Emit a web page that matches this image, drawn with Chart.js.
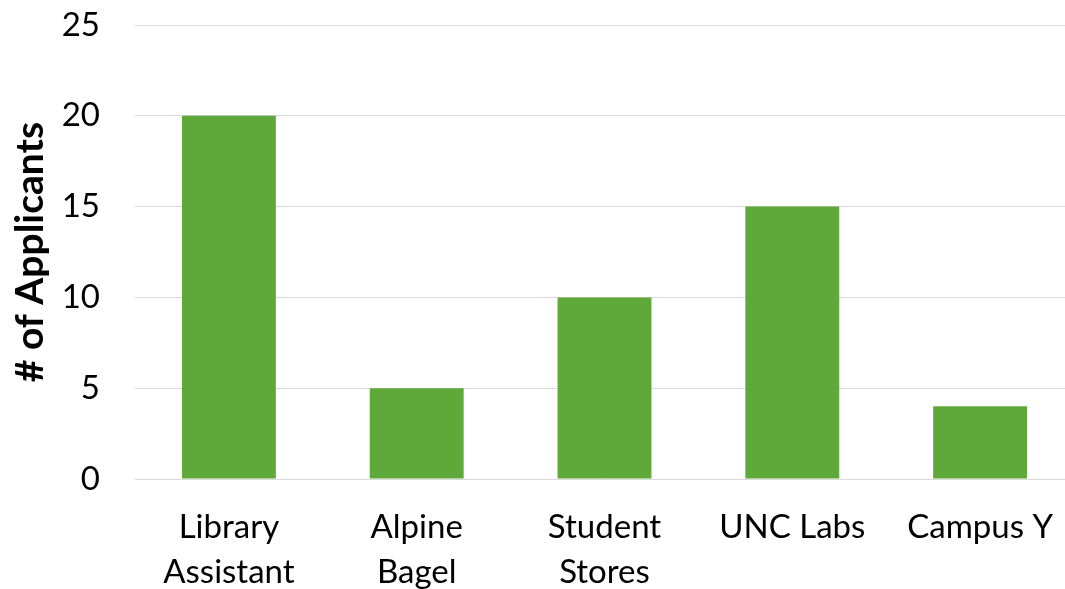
<!DOCTYPE html>
<html>
<head>
<meta charset="utf-8">
<script src="https://cdn.jsdelivr.net/npm/chart.js@4/dist/chart.umd.min.js"></script>
<style>
  html, body { margin: 0; padding: 0; background: #fff; overflow: hidden; }
  #wrap { position: relative; width: 1075px; height: 589px; }
</style>
</head>
<body>
<div id="wrap"><canvas id="chart"></canvas></div>
<script>
// Job postings and how many people applied to each
const categories = [["Library", "Assistant"], ["Alpine", "Bagel"], ["Student", "Stores"], "UNC Labs", "Campus Y"];
const applicants = [20, 5, 10, 15, 4];
const yTicks = [0, 5, 10, 15, 20, 25];
const yTitle = "# of Applicants";

const barColor = "#5EA939";
const gridColor = "#D9D9D9";
const fontFamily = "Lato, 'Liberation Sans', sans-serif";

new Chart(document.getElementById("chart"), {
  type: "bar",
  data: {
    labels: categories,
    datasets: [{
      data: applicants,
      backgroundColor: barColor,
      borderWidth: 0,
      categoryPercentage: 1,
      barPercentage: 0.5
    }]
  },
  options: {
    responsive: true,
    maintainAspectRatio: false,
    animation: false,
    layout: { padding: { top: 25, right: 1, left: 0, bottom: 0 } },
    plugins: { legend: { display: false }, tooltip: { enabled: false } },
    scales: {
      x: {
        grid: { display: false, drawTicks: false },
        border: { display: false },
        ticks: {
          color: "#000",
          padding: 26,
          maxRotation: 0,
          autoSkip: false,
          font: { family: fontFamily, size: 33, lineHeight: 1.364 }
        },
        afterFit(scale) {
          scale.height = 110;
          scale.paddingLeft = 0;
          scale.paddingRight = 0;
        }
      },
      y: {
        min: yTicks[0],
        max: yTicks[yTicks.length - 1],
        afterBuildTicks(scale) { scale.ticks = yTicks.map(v => ({ value: v })); },
        grid: { color: gridColor, lineWidth: 1, drawTicks: false },
        border: { display: false },
        ticks: {
          color: "#000",
          padding: 35,
          font: { family: fontFamily, size: 33 }
        },
        title: {
          display: true,
          text: yTitle,
          color: "#000",
          padding: { top: 7, bottom: 0 },
          font: { family: fontFamily, size: 39, weight: "bold" }
        },
        afterFit(scale) {
          scale.width = 135;
          scale.paddingTop = 0;
          scale.paddingBottom = 0;
        }
      }
    }
  }
});
</script>
</body>
</html>
